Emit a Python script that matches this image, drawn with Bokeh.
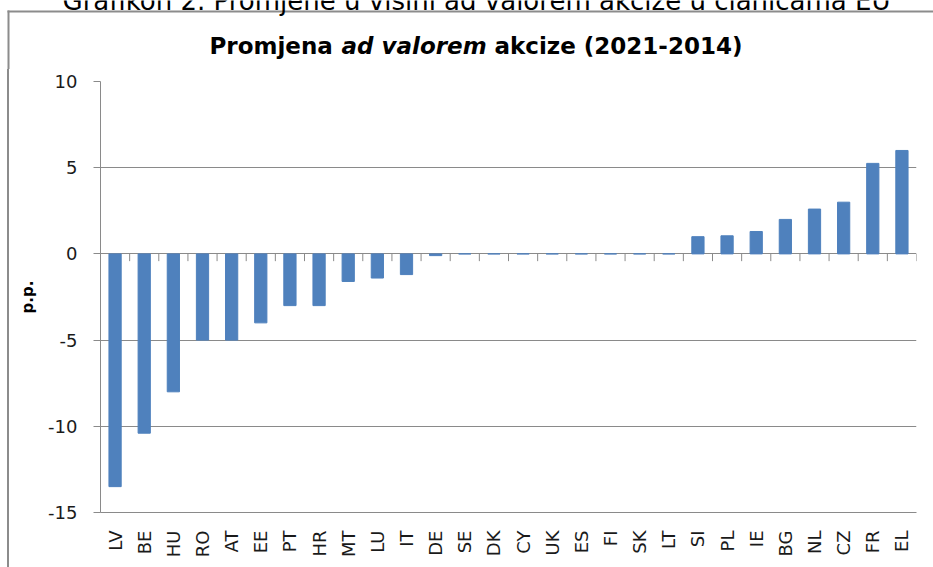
import math
from bokeh.plotting import figure
from bokeh.models import Range1d, FixedTicker, Spacer
from bokeh.layouts import column, row
from bokeh.core.properties import value
from bokeh.embed import file_html
from bokeh.resources import INLINE

# ---- data ----
countries = ["LV", "BE", "HU", "RO", "AT", "EE", "PT", "HR", "MT", "LU", "IT", "DE",
             "SE", "DK", "CY", "UK", "ES", "FI", "SK", "LT", "SI", "PL", "IE", "BG",
             "NL", "CZ", "FR", "EL"]
changes = [-13.5, -10.4, -8.0, -5.0, -5.0, -4.0, -3.0, -3.0, -1.6, -1.4, -1.2, -0.1,
           0, 0, 0, 0, 0, 0, 0, 0, 1.0, 1.05, 1.3, 2.0, 2.6, 3.0, 5.25, 6.0]
y_ticks = [-15, -10, -5, 0, 5, 10]
title_parts = ["Promjena", "ad valorem", "akcize (2021-2014)"]
caption = "Grafikon 2. Promjene u visini ad valorem akcize u članicama EU"
y_label = "p.p."

W, H = 933, 567
HEAD_H = 69          # height of the header strip (caption + title)
BOX_X = 7            # left edge of the chart box
BOX_W = 2            # box line width
FONT = "DejaVu Sans"
GRID = "#8a8a8a"
BOX = "#8c8c8c"
BAR = "#4F81BD"


def blank(width, height, fill="white"):
    """A figure whose frame covers the whole canvas, in pixel-like units (y down)."""
    f = figure(width=width, height=height, output_backend="svg", toolbar_location=None,
               x_range=Range1d(0, width), y_range=Range1d(height, 0),
               x_axis_type=None, y_axis_type=None,
               min_border=0, min_border_left=0, min_border_right=0,
               min_border_top=0, min_border_bottom=0)
    f.outline_line_color = None
    f.grid.visible = False
    f.background_fill_color = fill
    f.border_fill_color = fill
    return f


# ---- header: caption (cut by the picture's top edge) and the chart title ----
head = blank(W, HEAD_H)
head.quad(left=BOX_X, right=W, top=10, bottom=10 + BOX_W, fill_color=BOX, line_color=None)
head.quad(left=BOX_X, right=BOX_X + BOX_W, top=10, bottom=HEAD_H, fill_color=BOX,
          line_color=None)
head.text(x=[62], y=[0], text=[caption], text_font=value(FONT), text_font_size="26px",
          text_baseline="middle", text_color="#000000")
xs = [209, 341, 494]
styles = ["bold", "bold italic", "bold"]
for x, t, s in zip(xs, title_parts, styles):
    head.text(x=[x], y=[45], text=[t], text_font=value(FONT), text_font_style=s,
              text_font_size="23px", text_baseline="middle", text_align="left",
              text_color="#000000")

# ---- left edge of the chart box below the header ----
gap = Spacer(width=BOX_X, height=H - HEAD_H)
edge = Spacer(width=BOX_W, height=H - HEAD_H, styles={"background-color": BOX})

# ---- chart ----
n = len(countries)
centers = [i + 0.5 for i in range(n)]
bounds = list(range(1, n + 1))
left_off = BOX_X + BOX_W

p = figure(width=W - left_off, height=H - HEAD_H, output_backend="svg",
           toolbar_location=None,
           x_range=Range1d(0, n), y_range=Range1d(y_ticks[0], y_ticks[-1]),
           min_border_left=100 - left_off, min_border_right=17,
           min_border_top=81 - HEAD_H, min_border_bottom=55)
p.outline_line_color = None
p.background_fill_color = "white"
p.border_fill_color = "white"

p.vbar(x=centers, top=changes, bottom=0, width=0.42, fill_color=BAR, line_color=BAR)
# category boundary ticks hanging from the zero line
p.segment(x0=bounds, y0=[0] * n, x1=bounds, y1=[-0.42] * n, line_color=GRID, line_width=1)

p.xaxis.ticker = FixedTicker(ticks=centers)
p.xaxis.major_label_overrides = {c: name for c, name in zip(centers, countries)}
p.xaxis.major_label_orientation = math.pi / 2
p.xaxis.major_tick_line_color = None
p.xaxis.minor_tick_line_color = None
p.xaxis.axis_line_color = GRID
p.xaxis.major_label_standoff = 12
p.xaxis.major_label_text_font = FONT
p.xaxis.major_label_text_font_size = "18px"
p.xaxis.major_label_text_color = "#1a1a1a"
p.xgrid.grid_line_color = None

p.yaxis.ticker = FixedTicker(ticks=y_ticks)
p.yaxis.major_label_overrides = {t: str(t) for t in y_ticks}
p.yaxis.axis_line_color = GRID
p.yaxis.major_tick_line_color = GRID
p.yaxis.major_tick_out = 7
p.yaxis.major_tick_in = 0
p.yaxis.minor_tick_line_color = None
p.yaxis.major_label_standoff = 16
p.yaxis.major_label_text_font = FONT
p.yaxis.major_label_text_font_size = "18px"
p.yaxis.major_label_text_color = "#1a1a1a"
p.yaxis.axis_label = y_label
p.yaxis.axis_label_text_font = FONT
p.yaxis.axis_label_text_font_style = "bold"
p.yaxis.axis_label_text_font_size = "15px"
p.yaxis.axis_label_text_color = "#000000"
p.yaxis.axis_label_standoff = 8
p.ygrid.ticker = FixedTicker(ticks=y_ticks)
p.ygrid.grid_line_color = GRID

layout = column(head, row(gap, edge, p, spacing=0), spacing=0)
open("out.html", "w").write(file_html(layout, INLINE))
